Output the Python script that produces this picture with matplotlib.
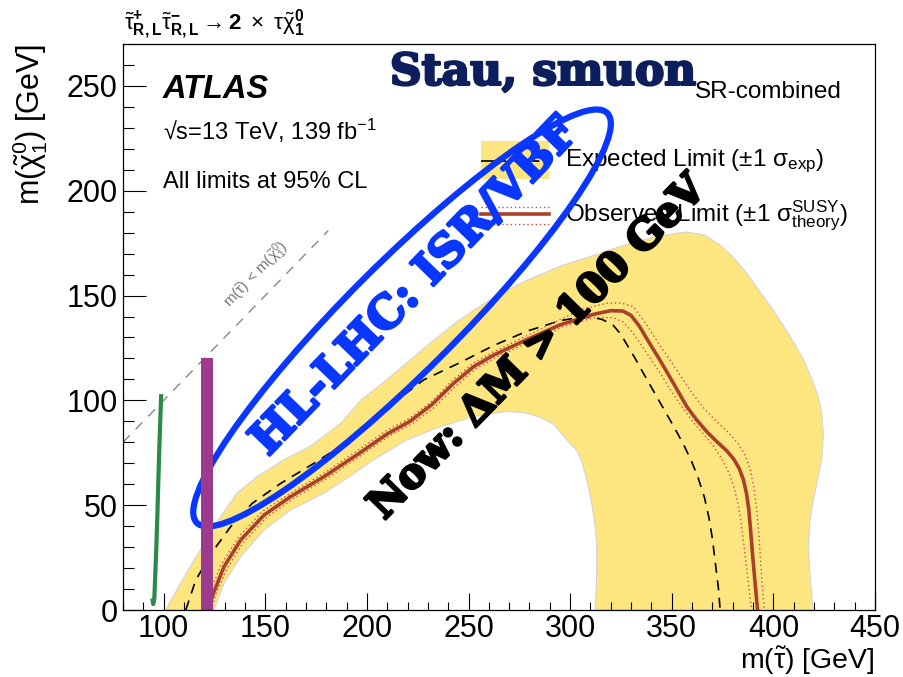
import numpy as np
import matplotlib
matplotlib.use("Agg")
import matplotlib.pyplot as plt
from matplotlib.patches import Ellipse, Rectangle
from matplotlib.ticker import MultipleLocator
import matplotlib.patheffects as pe

plt.rcParams["font.family"] = ["Liberation Sans", "DejaVu Sans"]
plt.rcParams["mathtext.fontset"] = "custom"
plt.rcParams["mathtext.rm"] = "Liberation Sans"
plt.rcParams["mathtext.it"] = "Liberation Sans:italic"
plt.rcParams["mathtext.bf"] = "Liberation Sans:bold"
plt.rcParams["mathtext.sf"] = "Liberation Sans"
plt.rcParams["mathtext.default"] = "rm"

# ---- exclusion contours, m(stau) vs m(chi1^0) in GeV ----
band_outer_x = [101, 109, 118, 128, 136, 146, 159, 172, 187, 197, 210, 229.5, 245, 262, 278, 295,
                311, 328, 344, 357, 366, 374, 381, 387, 394, 400, 406, 411, 415.5, 419, 422,
                423.8, 424.6, 424, 422, 419.5, 417.8, 417.3, 417.8, 418.7, 419.5]
band_outer_y = [0, 14, 28.6, 44.5, 55.7, 63.6, 71.6, 78, 89, 100, 110, 126, 138, 149, 157, 164,
                169, 174.5, 178.5, 180.3, 179, 174, 167.5, 160.5, 151, 143, 134, 126, 118, 110, 102,
                94, 84, 73, 63, 52, 41, 30, 19, 9, 0]
band_inner_x = [124.8, 129.7, 137.9, 149.4, 162.5, 178.9, 192, 203.2, 219.6, 236, 252.4, 268.8,
                278.7, 285, 292, 298.4, 303.3, 306, 308.2, 310, 311.4, 312.5, 313.1, 313.1, 312.8,
                312.3]
band_inner_y = [0, 12.7, 25.4, 38.2, 47.7, 55.7, 64, 71.6, 81.1, 87.4, 92.2, 94.7,
                93.9, 92, 88.5, 81, 76, 70, 62, 54, 46.1, 38, 30.2, 20, 10, 0]

exp_x = [110.9, 115.8, 124, 133, 143.6, 157.6, 174, 190, 206.5, 227.8, 245.8, 262, 278.7, 295,
         304, 311.4, 316, 321, 325, 328, 332, 336, 341, 346, 351, 355.5, 359.5, 363, 366,
         368.3, 370, 371.5, 373, 373.8]
exp_y = [0, 14.3, 27.8, 39.8, 50.9, 60.4, 70, 80, 93.8, 109.7, 118, 126, 133, 138,
         139.5, 139.6, 138.5, 136, 131.5, 126.5, 120, 113, 104.5, 96, 87.5, 79.5, 71.5, 63, 54,
         44, 34, 22, 10, 0]

obs_x = [122, 124.5, 129.7, 137.9, 149.4, 162.5, 178.9, 196.6, 210, 221.2, 232, 242.5, 252.4,
         262.2, 278.7, 295, 311.4, 320, 326, 330, 334, 338, 344, 350.8, 357.4, 362, 367.3,
         372, 377, 380.5, 383.2, 385.3, 386.8, 387.9, 388.8, 389.8, 391, 392.2]
obs_y = [0, 8, 20.7, 33.4, 45.3, 54.1, 63.6, 75, 84, 90, 98, 108, 116,
         121.5, 129, 136, 141, 142.8, 142.6, 140.5, 135.5, 129, 119.5, 108.2, 97, 91, 85,
         80.5, 76, 72, 67.5, 62, 55.5, 48, 38, 26, 13, 0]

obs_up_x = [121, 123, 128.5, 137, 148.5, 162, 178.5, 196, 209.5, 221, 232, 242, 252, 262, 278,
            294, 306, 318, 325, 331, 337, 344.3, 350, 354.1, 360, 366, 372, 378, 382.5, 386,
            388.6, 390.5, 391.8, 392.8, 393.6, 394.4, 395.5]
obs_up_y = [0, 9, 22, 35, 47, 55.5, 65, 76.5, 85.5, 91.5, 99.5, 109.5, 117.5, 123, 130.5,
            138, 143.5, 146.3, 146.5, 144.7, 137, 126, 118, 112, 103.5, 96, 90, 84.5, 79.5, 74,
            67, 58, 48, 37, 25, 13, 0]
obs_dn_x = [123.5, 125.5, 131, 139, 150.5, 163.5, 180, 197.5, 211, 222.5, 233, 243.5, 253.5,
            263.5, 280, 296, 312, 321, 326, 331, 336, 344.3, 350, 355.7, 361, 366.5, 371,
            375, 378.3, 380.8, 382.7, 384.2, 385.5, 386.7, 388, 389.4]
obs_dn_y = [0, 7, 19.5, 32, 44, 53, 62.5, 74, 83, 89, 96.5, 106.5, 115,
            120.5, 128, 135, 139.5, 139.5, 137.5, 132, 125, 113, 104, 96, 89, 83, 77.5,
            71.5, 65, 58, 50, 41, 31, 21, 10, 0]

# kinematic boundary m(stau) = m(chi)
diag_x = [80, 181]
diag_y = [80, 181]

# earlier reach markers
green_x = [94.4, 94.9, 95.4, 95.6, 96.0, 96.4, 96.9, 97.4, 97.9, 98.4, 98.8]
green_y = [5.5, 2.8, 5.5, 10, 20, 30, 45, 62, 78, 92, 103]
bar_x = [121.4]
bar_top = [120]

YELLOW = "#fde680"
OBS_RED = "#a8402a"
THEORY_RED = "#cc4a4a"
BLUE = "#0a37ff"
NAVY = "#0c1f5c"

fig = plt.figure(figsize=(9.04, 6.77), dpi=100)
ax = fig.add_axes([123 / 904, 67 / 677, 752 / 904, 566 / 677])
ax.set_xlim(80, 450)
ax.set_ylim(0, 270)

# expected +-1 sigma band
poly_x = np.concatenate([band_outer_x, band_inner_x[::-1]])
poly_y = np.concatenate([band_outer_y, band_inner_y[::-1]])
ax.fill(poly_x, poly_y, facecolor=YELLOW, edgecolor="#d4d4d4", lw=0.8, zorder=1)

ax.plot(diag_x, diag_y, color="#888888", lw=1.0, ls=(0, (7, 6)), zorder=2)
ax.text(145.8, 159.8, r"m($\tilde{\tau}$) < m($\tilde{\chi}^{0}_{1}$)", color="#777777",
        fontsize=11, rotation=46, ha="center", va="center", rotation_mode="anchor", zorder=2)

ax.plot(exp_x, exp_y, color="black", lw=1.2, ls=(0, (6, 4.5)), zorder=3)
ax.plot(obs_up_x, obs_up_y, color=THEORY_RED, lw=1.0, ls=(0, (1, 2)), zorder=3)
ax.plot(obs_dn_x, obs_dn_y, color=THEORY_RED, lw=1.0, ls=(0, (1, 2)), zorder=3)
ax.plot(obs_x, obs_y, color=OBS_RED, lw=2.6, zorder=4, solid_joinstyle="round")

# HL-LHC reach ellipse
ax.add_patch(Ellipse((217.3, 139.3), 281, 53, angle=44, fill=False, ec=BLUE, lw=4.5, zorder=5))

ax.plot(green_x, green_y, color="#2a8a4a", lw=3.0, solid_capstyle="butt",
        solid_joinstyle="round", zorder=6)
ax.bar(bar_x, bar_top, width=5.9, color="#9c3a8d", zorder=6)

# ticks and frame
ax.xaxis.set_major_locator(MultipleLocator(50))
ax.xaxis.set_minor_locator(MultipleLocator(10))
ax.yaxis.set_major_locator(MultipleLocator(50))
ax.yaxis.set_minor_locator(MultipleLocator(10))
ax.tick_params(which="both", direction="in", top=False, right=False, width=0.8, labelsize=22)
ax.tick_params(axis="y", which="major", length=16.5, pad=4)
ax.tick_params(axis="y", which="minor", length=8)
ax.tick_params(axis="x", which="major", length=12, pad=3)
ax.tick_params(axis="x", which="minor", length=6)
for s in ax.spines.values():
    s.set_linewidth(0.9)
    s.set_zorder(10)

# legend
ax.add_patch(Rectangle((0.476, 0.761), 0.090, 0.068, transform=ax.transAxes,
                       facecolor=YELLOW, edgecolor="none", zorder=3))
ax.plot([0.476, 0.566], [0.793, 0.793], transform=ax.transAxes, color="black", lw=1.2,
        ls=(0, (15, 5)), zorder=4)
ax.plot([0.476, 0.566], [0.700, 0.700], transform=ax.transAxes, color=OBS_RED, lw=2.6, zorder=4)
for yy in (0.712, 0.682):
    ax.plot([0.476, 0.566], [yy, yy], transform=ax.transAxes, color=THEORY_RED, lw=1.0,
            ls=(0, (1, 2)), zorder=4)
ax.text(0.588, 0.784, r"Expected Limit ($\pm$1 $\sigma_{\mathrm{exp}}$)", transform=ax.transAxes,
        fontsize=17.5, ha="left", va="baseline", zorder=4)
ax.text(0.588, 0.686, r"Observed Limit ($\pm$1 $\sigma^{\mathrm{SUSY}}_{\mathrm{theory}}$)",
        transform=ax.transAxes, fontsize=17.5, ha="left", va="baseline", zorder=4)

# labels inside the frame
ax.text(0.053, 0.905, "ATLAS", transform=ax.transAxes, fontsize=23.5, fontweight="bold",
        fontstyle="italic", ha="left", va="baseline")
ax.text(0.053, 0.830, r"√s=13 TeV, 139 fb$^{-1}$", transform=ax.transAxes, fontsize=17,
        ha="left", va="baseline")
ax.text(0.053, 0.746, "All limits at 95% CL", transform=ax.transAxes, fontsize=17,
        ha="left", va="baseline")
ax.text(0.761, 0.905, "SR-combined", transform=ax.transAxes, fontsize=17.5,
        ha="left", va="baseline")

heavy = dict(family="DejaVu Serif", fontweight="bold")
ax.text(0.355, 0.928, "Stau, smuon", transform=ax.transAxes, fontsize=31.5, color=NAVY,
        ha="left", va="baseline", zorder=8,
        path_effects=[pe.withStroke(linewidth=1.8, foreground=NAVY)], **heavy)
ax.text(223.7, 154.1, "HL-LHC: ISR/VBF", fontsize=32.5, color=BLUE, rotation=46,
        ha="center", va="center", rotation_mode="anchor", zorder=8,
        path_effects=[pe.withStroke(linewidth=2, foreground=BLUE)], **heavy)
ax.text(284.2, 125.0, "Now: ΔM > 100 GeV", fontsize=29.5, color="black", rotation=45.6,
        ha="center", va="center", rotation_mode="anchor", zorder=8,
        path_effects=[pe.withStroke(linewidth=2, foreground="black")], **heavy)

# axis titles
fig.text(0.968, 0.0111, r"m($\tilde{\tau}$) [GeV]", fontsize=20.5, ha="right", va="baseline")
fig.text(0.033, 0.935, r"m($\tilde{\chi}^{0}_{1}$) [GeV]", fontsize=22, rotation=90,
         ha="center", va="top")
fig.text(0.137, 0.956,
         r"$\tilde{\tau}^{\mathbf{+}}_{\mathbf{R,L}}\tilde{\tau}^{\mathbf{-}}_{\mathbf{R,L}}"
         r"\rightarrow\mathbf{2}\ \times\ \tau\tilde{\chi}^{\mathbf{0}}_{\mathbf{1}}$",
         fontsize=16, ha="left", va="baseline")

fig.savefig("out.png", dpi=100)
